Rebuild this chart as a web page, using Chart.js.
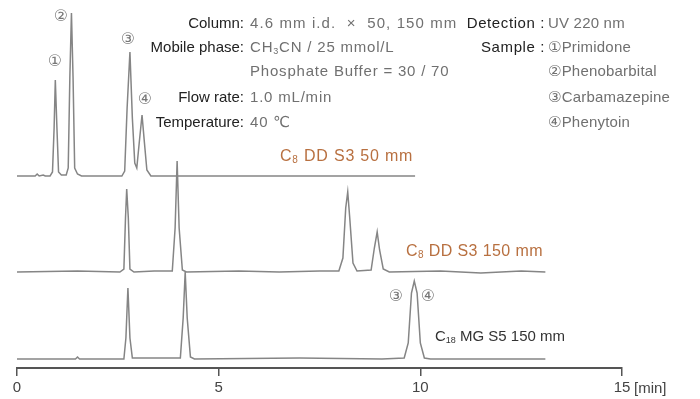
<!DOCTYPE html>
<html>
<head>
<meta charset="utf-8">
<script src="https://cdn.jsdelivr.net/npm/chart.js@4"></script>
<style>
  html, body { margin: 0; padding: 0; background: #fff; }
  #wrap { width: 700px; height: 399px; position: relative; }
</style>
</head>
<body>
<div id="wrap"><canvas id="chart"></canvas></div>
<script>
  "use strict";

  // retention time [min] and detector signal (offset per trace)
  const trace50Time = [0, 0.45, 0.5, 0.55, 0.65, 0.7, 0.82, 0.88, 0.92, 0.95, 0.99, 1.03, 1.1, 1.22, 1.27, 1.31, 1.35, 1.39, 1.43, 1.5, 1.6, 2.6, 2.67, 2.73, 2.8, 2.86, 2.92, 2.97, 3.03, 3.1, 3.16, 3.22, 3.32, 9.87];
  const trace50Signal = [192, 192, 194, 192, 193, 192, 192, 196, 240, 288, 240, 196, 193, 193, 200, 290, 355, 290, 200, 194, 192, 192, 197, 260, 316, 250, 205, 200, 225, 253, 225, 198, 192, 192];

  const trace150Time = [0, 1.5, 2.55, 2.65, 2.69, 2.72, 2.76, 2.8, 2.9, 3.4, 3.85, 3.92, 3.97, 4.02, 4.1, 4.2, 5.5, 6.5, 7.5, 7.98, 8.08, 8.15, 8.2, 8.25, 8.33, 8.43, 8.78, 8.86, 8.93, 8.99, 9.08, 9.23, 10.5, 11.5, 12.5, 13.1];
  const trace150Signal = [96, 97, 96, 99, 150, 179, 150, 99, 96, 97, 97, 140, 207, 140, 98, 96, 97, 96, 97, 97, 110, 160, 176, 150, 105, 97, 98, 120, 136, 118, 99, 96, 97, 95, 97, 96];

  const traceMgTime = [0, 1.45, 1.5, 1.55, 2.65, 2.7, 2.75, 2.8, 2.86, 4.05, 4.12, 4.17, 4.22, 4.3, 4.4, 7.0, 9.05, 9.6, 9.7, 9.78, 9.85, 9.92, 10.0, 10.1, 10.25, 13.1];
  const traceMgSignal = [9, 9, 11, 9, 9, 30, 80, 30, 10, 10, 50, 96, 50, 11, 9, 10, 9, 10, 25, 75, 87, 75, 25, 10, 9, 9];

  // trace names as [text, subscript, text]
  const traceNames = [["C", "8", " DD S3 50 mm"], ["C", "8", " DD S3 150 mm"], ["C", "18", " MG S5 150 mm"]];
  const xTicks = [0, 5, 10, 15];

  const conditionLabels = ["Column:", "Mobile phase:", "", "Flow rate:", "Temperature:"];
  const conditionValues = [["4.6 mm i.d.  ×  50, 150 mm"], ["CH", "3", "CN / 25 mmol/L"], ["Phosphate Buffer = 30 / 70"], ["1.0 mL/min"], ["40 ℃"]];
  const sampleLabels = ["Detection :", "Sample :", "", "", ""];
  const sampleValues = [["UV 220 nm"], ["①Primidone"], ["②Phenobarbital"], ["③Carbamazepine"], ["④Phenytoin"]];

  function toPoints(times, signals) {
    return times.map((t, i) => ({ x: t, y: signals[i] }));
  }

  const FONT = "'Liberation Sans', Arial, 'DejaVu Sans', sans-serif";
  const CIRCLE_FONT = "'DejaVu Sans', 'Noto Sans CJK JP', sans-serif";

  // draws [text, sub, text, ...] left-aligned, odd pieces as subscripts
  function drawParts(ctx, parts, x, y, size, spacing) {
    ctx.textAlign = "left";
    let cx = x;
    parts.forEach((p, i) => {
      const sub = i % 2 === 1;
      ctx.font = (sub ? Math.round(size * 0.62) : size) + "px " + FONT;
      ctx.letterSpacing = spacing + "px";
      ctx.fillText(p, cx, sub ? y + size * 0.22 : y);
      cx += ctx.measureText(p).width;
    });
    ctx.letterSpacing = "0px";
  }

  const textPlugin = {
    id: "chromText",
    afterDraw(chart) {
      const ctx = chart.ctx;
      ctx.save();
      ctx.textBaseline = "middle";

      // run conditions block
      const rowY = [24, 48, 72, 98, 123];
      conditionLabels.forEach((label, i) => {
        ctx.font = "15px " + FONT;
        ctx.fillStyle = "#222";
        ctx.textAlign = "right";
        if (label) ctx.fillText(label, 244, rowY[i]);
        ctx.fillStyle = "#707070";
        drawParts(ctx, conditionValues[i], 250, rowY[i], 15, i === 0 ? 1.1 : 0.8);
      });
      sampleLabels.forEach((label, i) => {
        ctx.font = "15px " + FONT;
        ctx.fillStyle = "#222";
        ctx.textAlign = "right";
        ctx.letterSpacing = "0.6px";
        if (label) ctx.fillText(label, 545, rowY[i]);
        ctx.letterSpacing = "0px";
        ctx.fillStyle = "#707070";
        drawParts(ctx, sampleValues[i], 548, rowY[i], 15, 0.2);
      });

      // trace names
      ctx.fillStyle = "#b87040";
      drawParts(ctx, traceNames[0], 280, 157, 16, 0.8);
      drawParts(ctx, traceNames[1], 406, 252, 16, 0.4);
      ctx.fillStyle = "#333";
      drawParts(ctx, traceNames[2], 435, 337, 15, 0);

      // peak numbers
      ctx.font = "16px " + CIRCLE_FONT;
      ctx.fillStyle = "#777";
      ctx.textAlign = "center";
      ctx.fillText("①", 55, 62);
      ctx.fillText("②", 61, 17);
      ctx.fillText("③", 128, 40);
      ctx.fillText("④", 145, 100);
      ctx.fillText("③", 396, 297);
      ctx.fillText("④", 428, 297);

      // axis unit
      const xs = chart.scales.x;
      ctx.font = "15px " + FONT;
      ctx.fillStyle = "#444";
      ctx.textAlign = "left";
      ctx.fillText("[min]", xs.right + 12, 389);
      ctx.restore();
    },
  };

  const lineStyle = {
    borderColor: "#858585",
    borderWidth: 1.5,
    pointRadius: 0,
    tension: 0,
    fill: false,
  };

  new Chart(document.getElementById("chart"), {
    type: "line",
    data: {
      datasets: [
        Object.assign({ label: traceNames[0].join(""), data: toPoints(trace50Time, trace50Signal) }, lineStyle),
        Object.assign({ label: traceNames[1].join(""), data: toPoints(trace150Time, trace150Signal) }, lineStyle),
        Object.assign({ label: traceNames[2].join(""), data: toPoints(traceMgTime, traceMgSignal) }, lineStyle),
      ],
    },
    options: {
      responsive: true,
      maintainAspectRatio: false,
      animation: false,
      layout: { padding: { left: 17, right: 78, top: 0, bottom: 0 } },
      plugins: {
        legend: { display: false },
        tooltip: { enabled: false },
      },
      scales: {
        x: {
          type: "linear",
          min: 0,
          max: 15,
          afterBuildTicks: (scale) => {
            scale.ticks = xTicks.map((v) => ({ value: v }));
          },
          afterFit: (scale) => {
            scale.height = 31;
          },
          grid: {
            drawOnChartArea: false,
            drawTicks: true,
            tickLength: 8,
            color: "#555",
            lineWidth: 1.5,
          },
          border: { display: true, color: "#555", width: 2 },
          ticks: {
            color: "#444",
            padding: 3,
            maxRotation: 0,
            font: { family: FONT, size: 15 },
          },
        },
        y: {
          display: false,
          min: 0,
          max: 368,
        },
      },
    },
    plugins: [textPlugin],
  });
</script>
</body>
</html>
